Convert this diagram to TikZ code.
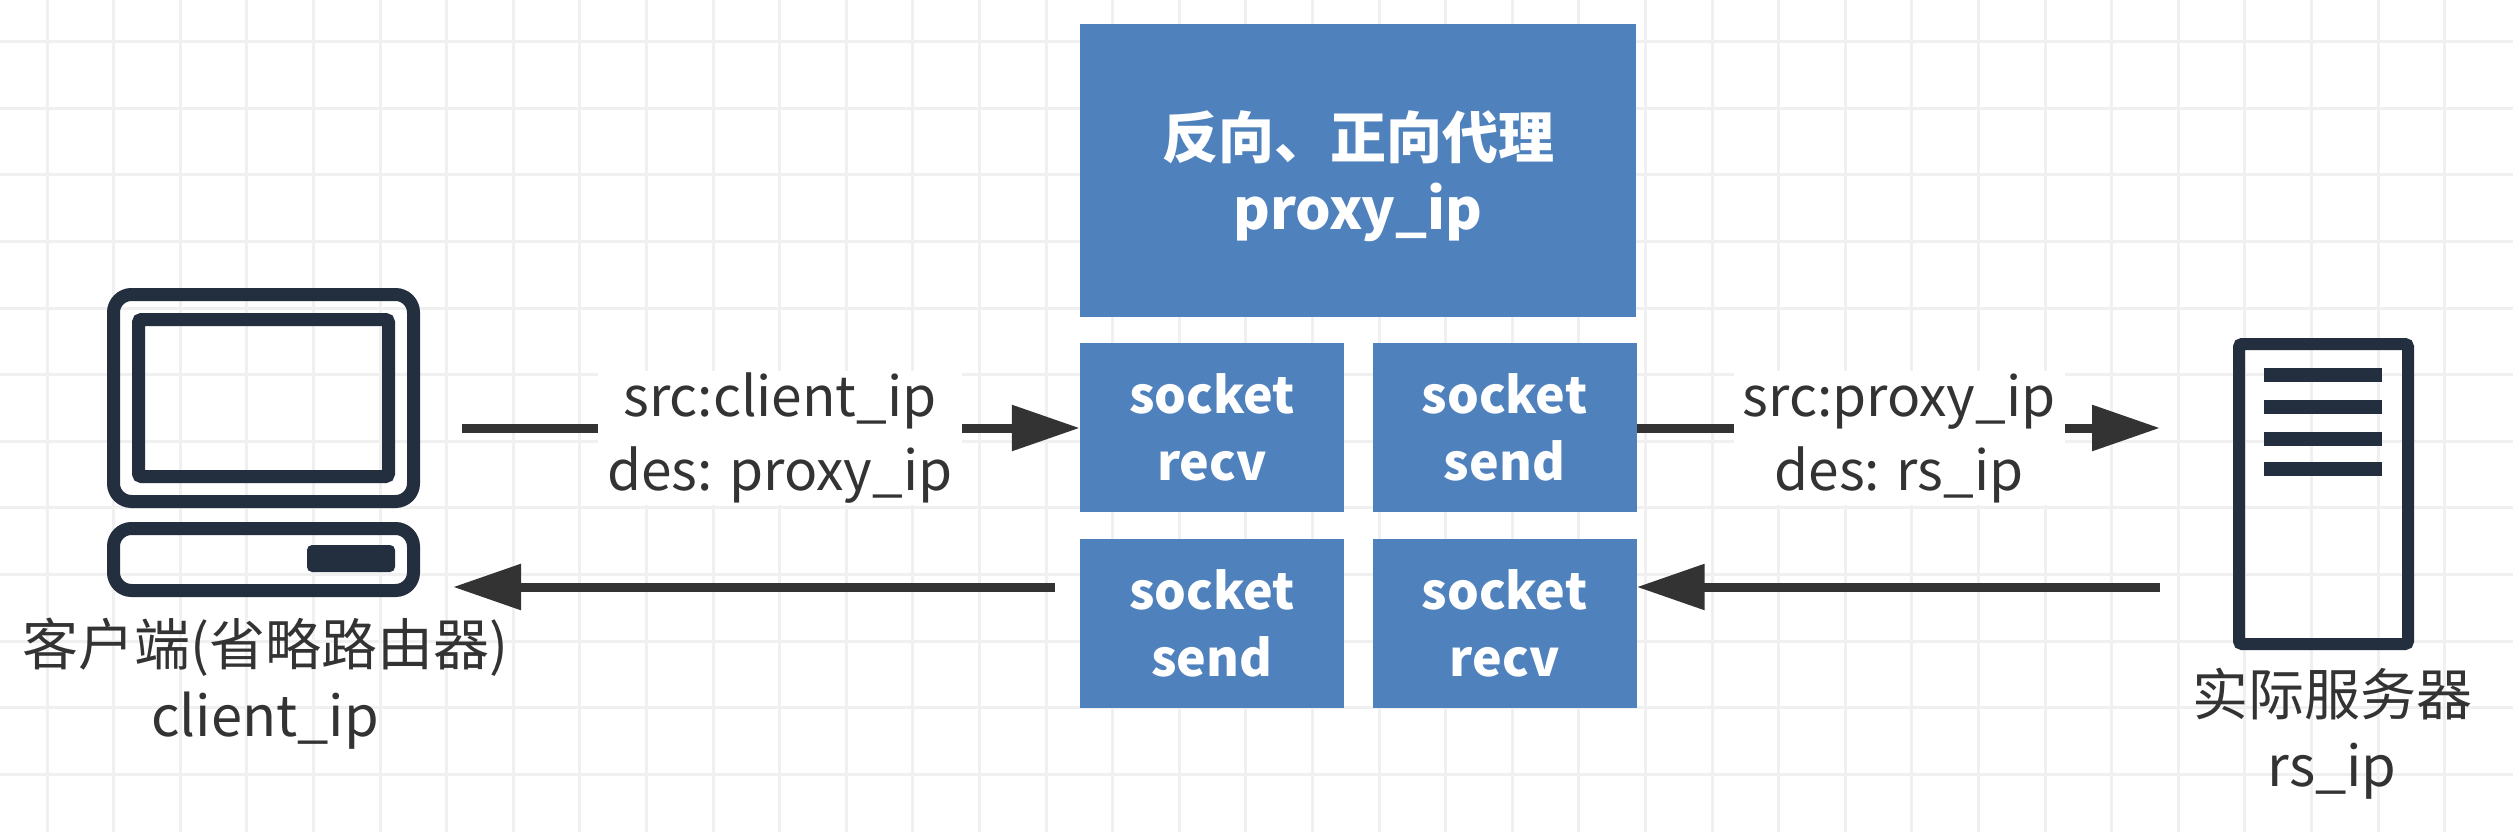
\documentclass[tikz,border=0pt]{standalone}
\usepackage{fontspec}
\setmainfont{Noto Sans CJK SC}
\usepackage{tikz}
\usetikzlibrary{arrows.meta}
\definecolor{boxblue}{HTML}{4F81BD}
\definecolor{iconblack}{HTML}{232F3E}
\definecolor{gridline}{HTML}{F0F0F0}
\definecolor{inkdark}{HTML}{333333}
\tikzstyle{arrow} = [line width=9pt,-{Triangle[length=68pt,width=44pt]},draw=inkdark]
\tikzstyle{proxybox} = [fill=boxblue,text=white,align=center,inner sep=0pt,font=\bfseries\fontsize{56pt}{71pt}\selectfont]
\tikzstyle{sockbox} = [proxybox,minimum width=264pt,minimum height=169pt,font=\bfseries\fontsize{50pt}{67pt}\selectfont]
\tikzstyle{lbl} = [align=center,inner sep=0pt,font=\fontsize{56pt}{71pt}\selectfont,text=inkdark]
\tikzstyle{wire} = [lbl,fill=white,inner xsep=9pt,inner ysep=2pt,font=\fontsize{55pt}{74pt}\selectfont]
\begin{document}
\begin{tikzpicture}[x=1pt,y=-1pt]
	\useasboundingbox (0,0) rectangle (2513,832);
	\fill[white] (0,0) rectangle (2513,832);
	% grid
	\foreach \n in {0,...,11}{%
		\draw[gridline,line width=3pt] (0,41.6+66.6*\n) -- (2513,41.6+66.6*\n);
	}
	\foreach \n in {0,...,36}{%
		\draw[gridline,line width=3pt] (47+66.6*\n,0) -- (47+66.6*\n,832);
	}
	% proxy
	\node[proxybox,minimum width=556pt,minimum height=293pt] (proxy) at (1358,170.5) {};
	\node[proxybox] (proxytext) at (1358,176) {反向、正向代理\\proxy\_ip};
	\node[sockbox] (recvA) at (1212,427.5) {socket\\recv};
	\node[sockbox] (sendA) at (1504.5,427.5) {socket\\send};
	\node[sockbox] (sendB) at (1212,623) {socket\\send};
	\node[sockbox] (recvB) at (1504.5,623) {socket\\recv};
	% client
	\draw[iconblack,line width=13pt,rounded corners=18pt] (113.5,294.5) rectangle (413.5,501.5);
	\draw[iconblack,line width=13pt,rounded corners=3pt] (138.5,319.5) rectangle (388.5,476.5);
	\draw[iconblack,line width=13pt,rounded corners=18pt] (113.5,528.5) rectangle (413.5,590.5);
	\fill[iconblack,rounded corners=5pt] (307,545) rectangle (395,572);
	\coordinate (clientR) at (462,428);
	\coordinate (clientL) at (453,587);
	\coordinate (sendBL) at (1055,587);
	\node[lbl] (client) at (265,684) {客户端(省略路由器)\\client\_ip};
	% server
	\draw[iconblack,line width=12pt,rounded corners=3pt] (2239,344) rectangle (2408,644);
	\foreach \n in {375,407,439,469}{%
		\draw[iconblack,line width=14pt] (2264,\n) -- (2382,\n);
	}
	\coordinate (rsA) at (2160,428);
	\coordinate (rsB) at (2160,587);
	\node[lbl] (rs) at (2332,734) {实际服务器\\rs\_ip};
	% wires
	\coordinate (wireA) at (780,438);
	\coordinate (wireB) at (1899,438);
	\draw[arrow] (clientR) -- (recvA.west |- clientR);
	\draw[arrow] (sendA.east |- rsA) -- (rsA);
	\node[wire] (labelA) at (wireA) {src:client\_ip\\des: proxy\_ip};
	\node[wire] (labelB) at (wireB) {src:proxy\_ip\\des: rs\_ip};
	\draw[arrow] (rsB) -- (recvB.east |- rsB);
	\draw[arrow] (sendBL) -- (clientL);
\end{tikzpicture}
\end{document}
